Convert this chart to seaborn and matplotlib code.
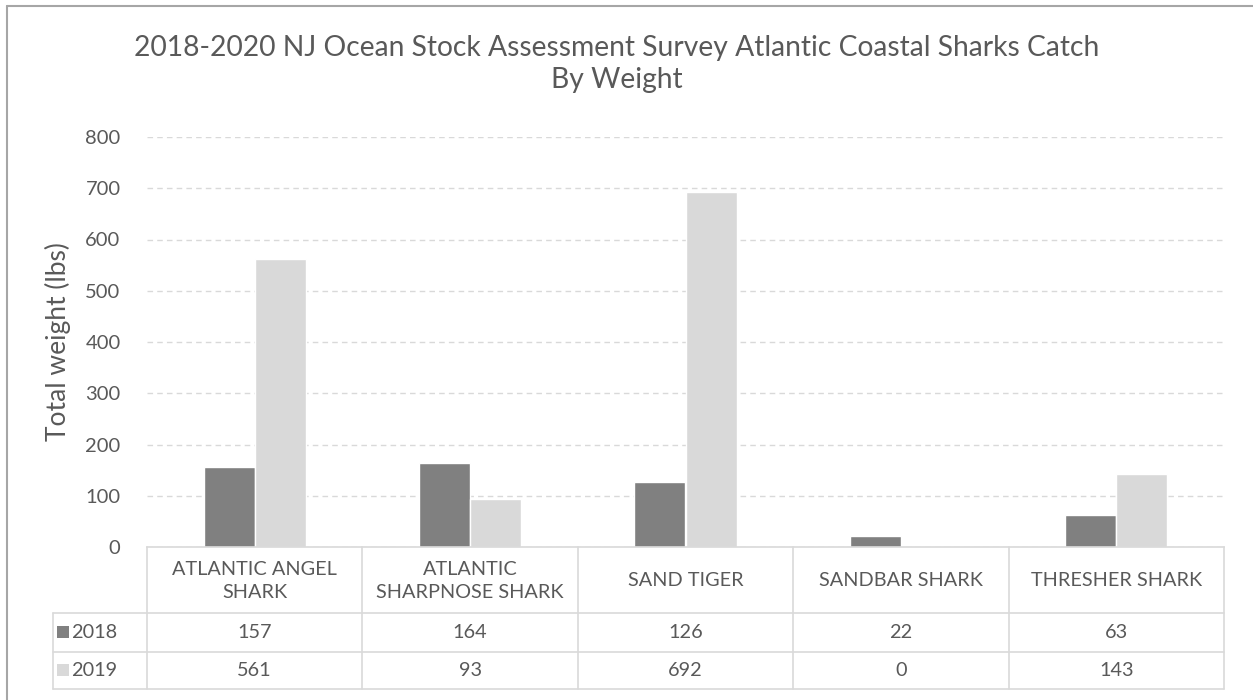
import matplotlib
matplotlib.use("Agg")
import matplotlib.pyplot as plt
import seaborn as sns
import pandas as pd
from matplotlib.lines import Line2D
from matplotlib.patches import Rectangle

categories = ["ATLANTIC ANGEL\nSHARK", "ATLANTIC\nSHARPNOSE SHARK", "SAND TIGER",
              "SANDBAR SHARK", "THRESHER SHARK"]
years = ["2018", "2019"]
values_2018 = [157, 164, 126, 22, 63]
values_2019 = [561, 93, 692, 0, 143]
colors = {"2018": "#808080", "2019": "#D9D9D9"}
title = "2018-2020 NJ Ocean Stock Assessment Survey Atlantic Coastal Sharks Catch\nBy Weight"
ylabel = "Total weight (lbs)"
yticks = [0, 100, 200, 300, 400, 500, 600, 700, 800]

df = pd.DataFrame({
    "cat": categories * 2,
    "year": ["2018"] * 5 + ["2019"] * 5,
    "val": values_2018 + values_2019,
})

sns.set_theme(style="white")
plt.rcParams["font.family"] = ["Lato", "DejaVu Sans"]
TXT = "#595959"
GRID = "#D9D9D9"

W, H = 1253, 700
fig = plt.figure(figsize=(W / 100, H / 100), dpi=100)
x0, x1, ytop, ybot = 147, 1224, 137, 547
ax = fig.add_axes([x0 / W, (H - ybot) / H, (x1 - x0) / W, (ybot - ytop) / H])

sns.barplot(data=df, x="cat", y="val", hue="year", palette=colors, ax=ax,
            width=0.475, gap=0, saturation=1, legend=False, order=categories,
            hue_order=years)
ax.set_xlim(-0.5, 4.5)
ax.set_ylim(0, 800)
ax.set_yticks(yticks)
ax.set_yticklabels([str(t) for t in yticks], fontsize=14.5, color=TXT)
ax.tick_params(axis="y", length=0, pad=19)
ax.set_xticks([])
ax.set_xlabel("")
ax.set_ylabel(ylabel, fontsize=19, color=TXT, labelpad=10)
ax.yaxis.grid(True, color=GRID, linestyle=(0, (4, 3)), linewidth=1)
ax.set_axisbelow(True)
for s in ["top", "right", "left"]:
    ax.spines[s].set_visible(False)
ax.spines["bottom"].set_color(GRID)
ax.spines["bottom"].set_linewidth(1.2)

fig.text(617 / W, (H - 64) / H, title, ha="center", va="center", fontsize=20.3,
         color=TXT, linespacing=1.3)

# data table below the axis
px = lambda p: (p - x0) / (x1 - x0) * 5 - 0.5  # pixel x -> data x
tr = ax.get_xaxis_transform()
ay = lambda p: (ybot - p) / (ybot - ytop)       # pixel y -> axes fraction
row_y = [547, 613, 652, 689]
leg_x = px(53)
lc = "#D9D9D9"
TFS = 14.3

def hline(xa, xb, yp):
    ax.add_line(Line2D([xa, xb], [ay(yp), ay(yp)], transform=tr, color=lc,
                       lw=1.2, clip_on=False))

def vline(xd, ya, yb):
    ax.add_line(Line2D([xd, xd], [ay(ya), ay(yb)], transform=tr, color=lc,
                       lw=1.2, clip_on=False))

for yp in row_y[1:]:
    hline(leg_x, 4.5, yp)
for i in range(6):
    vline(i - 0.5, row_y[0], row_y[3])
vline(leg_x, row_y[1], row_y[3])

for i, c in enumerate(categories):
    ax.text(i, ay((row_y[0] + row_y[1]) / 2 + 1), c, transform=tr, ha="center",
            va="center", fontsize=TFS, color=TXT, linespacing=1.4)

for r, (yr, vals) in enumerate(zip(years, [values_2018, values_2019])):
    yc = ay((row_y[r + 1] + row_y[r + 2]) / 2)
    for i, v in enumerate(vals):
        ax.text(i, yc, str(v), transform=tr, ha="center", va="center",
                fontsize=TFS, color=TXT)
    ax.add_patch(Rectangle((px(57), yc - 0.013), px(69) - px(57), 0.028,
                           transform=tr, facecolor=colors[yr], edgecolor="none",
                           clip_on=False))
    ax.text(px(71), yc, yr, transform=tr, ha="left", va="center",
            fontsize=TFS, color=TXT)

# chart frame (top and left edges visible)
fig.add_artist(Line2D([7 / W, 1], [1 - 6 / H, 1 - 6 / H], transform=fig.transFigure,
                      color="#A6A6A6", lw=1.5))
fig.add_artist(Line2D([7 / W, 7 / W], [0, 1 - 6 / H], transform=fig.transFigure,
                      color="#A6A6A6", lw=1.5))

fig.savefig("out.png", dpi=100)
